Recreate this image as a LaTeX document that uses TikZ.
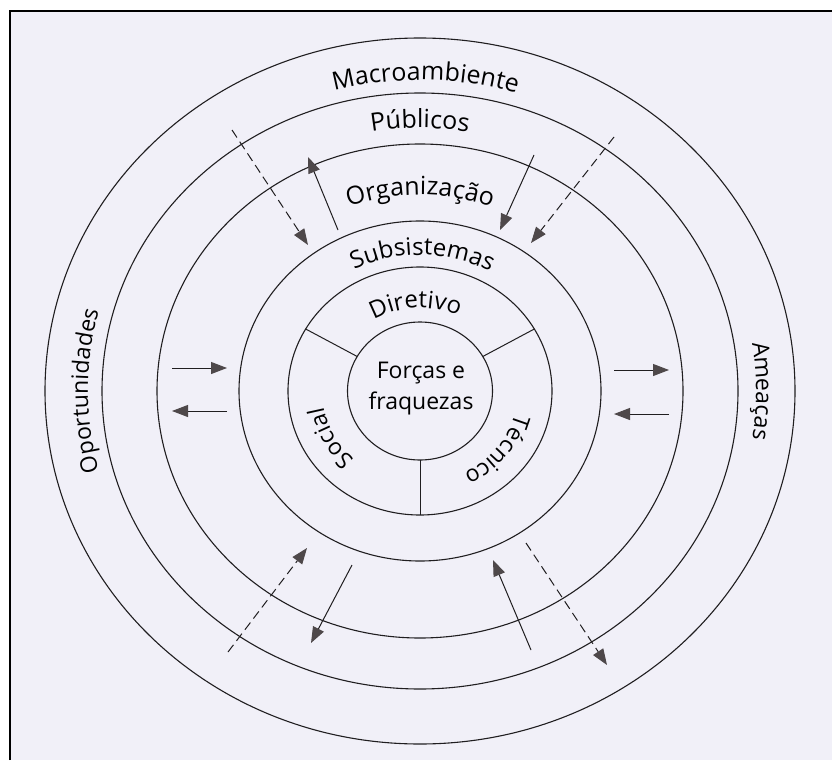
\documentclass[tikz,border=0pt]{standalone}
\usepackage{fontspec}
\setmainfont{Open Sans}
\usetikzlibrary{arrows.meta,decorations.text,calc}

\definecolor{paper}{RGB}{241,240,248}
\definecolor{ink}{RGB}{32,30,32}
\definecolor{headgray}{RGB}{78,72,74}

\tikzset{
  ring/.style={draw=ink, line width=1.1pt},
  divider/.style={draw=ink, line width=1pt},
  flow/.style={draw=ink, line width=1pt,
    -{Triangle[length=16pt,width=12pt,color=headgray]}},
  dashflow/.style={flow, dash pattern=on 9pt off 5pt},
  frameline/.style={draw=black, line width=1.5pt},
}

% text set along an elliptical arc around (c); tops of letters face outward
% #1 x radius, #2 y radius, #3 start angle, #4 end angle, #5 size, #6 text
\newcommand\ringlabel[6]{%
  \path[decorate, decoration={text along path, text align=center,
      text={|\fontsize{#5}{#5}\selectfont|#6}}]
    ($(c)+(#3:#1 and #2)$) arc[start angle=#3, end angle=#4,
      x radius=#1, y radius=#2];
}

\begin{document}
\begin{tikzpicture}[x=1pt, y=-1pt]
  \useasboundingbox (0,0) rectangle (832,760);
  \fill[white] (0,0) rectangle (832,760);
  \fill[paper] (10,11) rectangle (832,760);
  \draw[frameline] (10,760) -- (10,11) -- (832,11);

  \coordinate (c) at (420,391);

  % concentric rings
  \draw[ring] (c) ellipse [x radius=375, y radius=353];
  \draw[ring] (c) ellipse [x radius=318, y radius=298];
  \draw[ring] (c) ellipse [x radius=263, y radius=247];
  \draw[ring] (c) ellipse [x radius=181, y radius=170];
  \draw[ring] (c) ellipse [x radius=132, y radius=124];
  \draw[ring] (c) ellipse [x radius=72.5, y radius=69];

  % sector dividers of the subsystems ring
  \coordinate (d1a) at ($(c)+(210:72.5 and 69)$);
  \coordinate (d1b) at ($(c)+(210:132 and 124)$);
  \coordinate (d2a) at ($(c)+(330:72.5 and 69)$);
  \coordinate (d2b) at ($(c)+(330:132 and 124)$);
  \coordinate (d3a) at ($(c)+(90:72.5 and 69)$);
  \coordinate (d3b) at ($(c)+(90:132 and 124)$);
  \draw[divider] (d1a) -- (d1b);
  \draw[divider] (d2a) -- (d2b);
  \draw[divider] (d3a) -- (d3b);

  % ring labels
  \ringlabel{330}{311}{211}{331}{25}{Macroambiente}
  \ringlabel{279}{263}{210}{330}{25}{Públicos}
  \ringlabel{208}{196}{210}{330}{25}{Organização}
  \ringlabel{145}{136}{211}{331}{24}{Subsistemas}
  \ringlabel{89}{83}{207}{327}{24}{Diretivo}
  \ringlabel{332}{313}{120}{240}{23}{Oportunidades}
  \ringlabel{336}{317}{-60}{60}{23}{Ameaças}
  \ringlabel{98}{92}{97}{207}{23}{Social}
  \ringlabel{98}{92}{-17}{93}{23}{Técnico}

  \node[align=center, font=\fontsize{23}{31}\selectfont, inner sep=0pt]
    (core) at (421,389) {Forças e\\fraquezas};

  % exchange arrows
  \coordinate (ula) at (338,230);  \coordinate (ulb) at (308,157);
  \coordinate (ura) at (534,155);  \coordinate (urb) at (500,230);
  \coordinate (lla) at (352,565);  \coordinate (llb) at (311,643);
  \coordinate (lra) at (531,650);  \coordinate (lrb) at (493,560);
  \draw[flow] (ula) -- (ulb);
  \draw[flow] (ura) -- (urb);
  \draw[flow] (lla) -- (llb);
  \draw[flow] (lra) -- (lrb);

  \coordinate (uldA) at (232,130); \coordinate (uldB) at (308,245);
  \coordinate (urdA) at (614,137); \coordinate (urdB) at (531,243);
  \coordinate (lldA) at (228,652); \coordinate (lldB) at (307,548);
  \coordinate (lrdA) at (526,543); \coordinate (lrdB) at (607,665);
  \draw[dashflow] (uldA) -- (uldB);
  \draw[dashflow] (urdA) -- (urdB);
  \draw[dashflow] (lldA) -- (lldB);
  \draw[dashflow] (lrdA) -- (lrdB);

  \coordinate (l1a) at (172,368); \coordinate (l1b) at (227,368);
  \coordinate (l2a) at (227,411); \coordinate (l2b) at (172,411);
  \coordinate (r1a) at (614,370); \coordinate (r1b) at (669,370);
  \coordinate (r2a) at (669,414); \coordinate (r2b) at (614,414);
  \draw[flow] (l1a) -- (l1b);
  \draw[flow] (l2a) -- (l2b);
  \draw[flow] (r1a) -- (r1b);
  \draw[flow] (r2a) -- (r2b);
\end{tikzpicture}
\end{document}
